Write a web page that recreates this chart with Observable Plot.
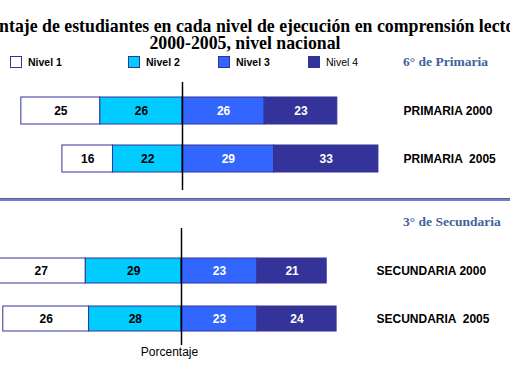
<!DOCTYPE html>
<html>
<head>
<meta charset="utf-8">
<script src="https://cdn.jsdelivr.net/npm/d3@7"></script>
<script src="https://cdn.jsdelivr.net/npm/@observablehq/plot@0.6"></script>
<style>
  html, body { margin: 0; padding: 0; background: #fff; }
  #root { position: relative; width: 510px; height: 382px; overflow: hidden; background: #fff; }
  .title { position: absolute; font-family: "Liberation Serif", "Times New Roman", serif; font-weight: bold; font-size: 17.8px; white-space: nowrap; color: #000; line-height: 16px; }
  .sub { position: absolute; font-family: "Liberation Serif", "Times New Roman", serif; font-weight: bold; font-size: 13.5px; color: #42629a; white-space: nowrap; line-height: 16px; }
  .leg { position: absolute; top: 56px; display: flex; align-items: center; font-family: "Liberation Sans", Arial, sans-serif; font-size: 10.5px; font-weight: bold; color: #000; }
  .sw { width: 10px; height: 10px; border: 1.5px solid #333399; margin-right: 6px; }
  #sep { position: absolute; left: 0; top: 198px; width: 510px; height: 3px; background: #7b7bc4; border-top: 1px solid #5a5aa8; box-sizing: border-box; }
  svg text { white-space: pre; }
</style>
</head>
<body>
<div id="root">
  <div class="title" id="t1" style="left:-44px; top:18px;"></div>
  <div class="title" id="t2" style="left:0; width:490px; text-align:center; top:35px;"></div>
  <div id="legend"></div>
  <div class="sub" id="s1" style="left:403px; top:54px;"></div>
  <div id="top" style="position:absolute; left:0; top:75px;"></div>
  <div id="sep"></div>
  <div class="sub" id="s2" style="left:403px; top:214px;"></div>
  <div id="bottom" style="position:absolute; left:0; top:205px;"></div>
</div>
<script>
// ---- data ----
const tituloLinea1 = "Porcentaje de estudiantes en cada nivel de ejecución en comprensión lectora,";
const tituloLinea2 = "2000-2005, nivel nacional";
const subtituloPrimaria = "6° de Primaria";
const subtituloSecundaria = "3° de Secundaria";
const ejeLabel = "Porcentaje";

const niveles = ["Nivel 1", "Nivel 2", "Nivel 3", "Nivel 4"];

const primariaCats = ["PRIMARIA 2000", "PRIMARIA  2005"];
const primaria2000 = [25, 26, 26, 23];
const primaria2005 = [16, 22, 29, 33];

const secundariaCats = ["SECUNDARIA 2000", "SECUNDARIA  2005"];
const secundaria2000 = [27, 29, 23, 21];
const secundaria2005 = [26, 28, 23, 24];

// ---- styles ----
const colores = ["#ffffff", "#00ccff", "#3366ff", "#333399"];
const legendLeft = [10, 128, 218, 308];

document.getElementById("t1").textContent = tituloLinea1;
document.getElementById("t2").textContent = tituloLinea2;
document.getElementById("s1").textContent = subtituloPrimaria;
document.getElementById("s2").textContent = subtituloSecundaria;

const legend = document.getElementById("legend");
niveles.forEach((n, i) => {
  const item = document.createElement("div");
  item.className = "leg";
  item.style.left = legendLeft[i] + "px";
  if (i === 3) item.style.fontWeight = "normal";
  const sw = document.createElement("div");
  sw.className = "sw";
  sw.style.background = colores[i];
  const t = document.createElement("span");
  t.textContent = n;
  item.appendChild(sw);
  item.appendChild(t);
  legend.appendChild(item);
});

function buildRows(cats, series) {
  const rows = [];
  cats.forEach((c, i) => {
    const v = series[i];
    const starts = [-(v[0] + v[1]), -v[1], 0, v[2]];
    v.forEach((val, j) => rows.push({cat: c, nivel: niveles[j], idx: j, value: val, x1: starts[j], x2: starts[j] + val}));
  });
  return rows;
}

function panel(cats, series, o) {
  const rows = buildRows(cats, series);
  const marks = [
    Plot.barX(rows, {x1: "x1", x2: "x2", y: "cat", fill: "nivel", stroke: "#333399", strokeWidth: 1}),
    Plot.text(rows.filter(d => d.idx < 2), {x: d => (d.x1 + d.x2) / 2, y: "cat", text: d => String(d.value), fill: "#000", fontWeight: "bold", fontSize: 12}),
    Plot.text(rows.filter(d => d.idx >= 2), {x: d => (d.x1 + d.x2) / 2, y: "cat", text: d => String(d.value), fill: "#fff", fontWeight: "bold", fontSize: 12}),
    Plot.ruleX([0], {stroke: "#000", strokeWidth: 1.5, insetTop: o.ruleTop, insetBottom: o.ruleBottom}),
    Plot.axisY({anchor: "right", tickSize: 0, tickPadding: o.tickPadding, label: null, fontSize: 12, fontWeight: "bold"})
  ];
  if (o.xLabel) {
    marks.push(Plot.text([o.xLabel], {x: () => 0, text: d => d, frameAnchor: "bottom", lineAnchor: "top", dy: -8, dx: -12, fontSize: 12, fontWeight: "normal", fill: "#000"}));
  }
  return Plot.plot({
    width: 510,
    height: o.height,
    marginLeft: 0,
    marginRight: o.marginRight,
    marginTop: o.marginTop,
    marginBottom: o.marginBottom,
    x: {domain: o.xDomain, axis: null},
    y: {domain: cats, padding: o.padding, axis: null},
    color: {domain: niveles, range: colores},
    style: {fontFamily: "'Liberation Sans', Arial, sans-serif", fontSize: "12px", fontWeight: "bold", background: "transparent", overflow: "visible"},
    marks
  });
}

document.getElementById("top").appendChild(panel(primariaCats, [primaria2000, primaria2005], {
  height: 125, marginTop: 1, marginBottom: 6, marginRight: 110,
  xDomain: [-182 / 3.16, 218 / 3.16], padding: 0.433,
  ruleTop: 6, ruleBottom: 4, tickPadding: 3
}));

document.getElementById("bottom").appendChild(panel(secundariaCats, [secundaria2000, secundaria2005], {
  height: 177, marginTop: 30, marginBottom: 27, marginRight: 137,
  xDomain: [-181 / 3.3, 192 / 3.3], padding: 0.474,
  ruleTop: -7, ruleBottom: 10, tickPadding: 3, xLabel: ejeLabel
}));
</script>
</body>
</html>
